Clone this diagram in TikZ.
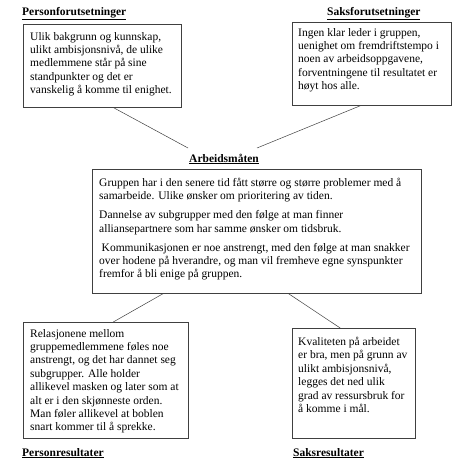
\documentclass[tikz,border=0pt]{standalone}
\usepackage{fontspec}
\setmainfont{Liberation Serif}
\usetikzlibrary{calc}
\begin{document}
\begin{tikzpicture}[x=1pt,y=-1pt,
  box/.style={draw=black!75, line width=0.6pt, inner sep=0pt, anchor=north west},
  txt/.style={anchor=north west, inner sep=0pt, align=left, font=\fontsize{11.5}{13.4}\selectfont},
  ttl/.style={anchor=base west, inner sep=0pt, font=\fontsize{11.5}{13}\selectfont\bfseries},
  conn/.style={draw=black!75, line width=0.5pt}]
\useasboundingbox (0,0) rectangle (452,468);

% titles
\node[ttl] (t1) at (22,15.5) {\underline{Personforutsetninger}};
\node[ttl] (t2) at (327,15.5) {\underline{Saksforutsetninger}};
\node[ttl] (t3) at (189,162) {\underline{Arbeidsmåten}};
\node[ttl] (t4) at (22,456) {\underline{Personresultater}};
\node[ttl] (t5) at (293,456) {\underline{Saksresultater}};

% boxes
\node[box, minimum width=158pt, minimum height=83pt] (b1) at (23,24) {};
\node[box, minimum width=159pt, minimum height=83pt] (b2) at (292,22) {};
\node[box, minimum width=329pt, minimum height=124pt] (b3) at (92,169) {};
\node[box, minimum width=165pt, minimum height=116pt] (b4) at (23,322) {};
\node[box, minimum width=123pt, minimum height=110pt] (b5) at (292,328) {};

% texts
\node[txt] (x1) at (30,32) {Ulik bakgrunn og kunnskap,\\ulikt ambisjonsnivå, de ulike\\medlemmene står på sine\\standpunkter og det er\\vanskelig å komme til enighet.};
\node[txt] (x2) at (298,28) {Ingen klar leder i gruppen,\\uenighet om fremdriftstempo i\\noen av arbeidsoppgavene,\\forventningene til resultatet er\\høyt hos alle.};
\node[txt] (x3) at (99,178) {Gruppen har i den senere tid fått større og større problemer med å\\samarbeide. Ulike ønsker om prioritering av tiden.\\[5.5pt]Dannelse av subgrupper med den følge at man finner\\alliansepartnere som har samme ønsker om tidsbruk.\\[5.5pt]\hspace{2.5pt}Kommunikasjonen er noe anstrengt, med den følge at man snakker\\over hodene på hverandre, og man vil fremheve egne synspunkter\\fremfor å bli enige på gruppen.};
\node[txt] (x4) at (30,329) {Relasjonene mellom\\gruppemedlemmene føles noe\\anstrengt, og det har dannet seg\\subgrupper. Alle holder\\allikevel masken og later som at\\alt er i den skjønneste orden.\\Man føler allikevel at boblen\\snart kommer til å sprekke.};
\node[txt] (x5) at (298,337) {Kvaliteten på arbeidet\\er bra, men på grunn av\\ulikt ambisjonsnivå,\\legges det ned ulik\\grad av ressursbruk for\\å komme i mål.};

% connector ends near the central title
\coordinate (e1) at (188,148);
\coordinate (e2) at (257,148);

\draw[conn] ($(b1.south west)!0.57!(b1.south east)$) -- (e1);
\draw[conn] ($(b2.south west)!0.43!(b2.south east)$) -- (e2);
\draw[conn] ($(b3.south west)!0.216!(b3.south east)$) -- ($(b4.north west)!0.545!(b4.north east)$);
\draw[conn] ($(b3.south west)!0.596!(b3.south east)$) -- ($(b5.north west)!0.39!(b5.north east)$);
\end{tikzpicture}
\end{document}
